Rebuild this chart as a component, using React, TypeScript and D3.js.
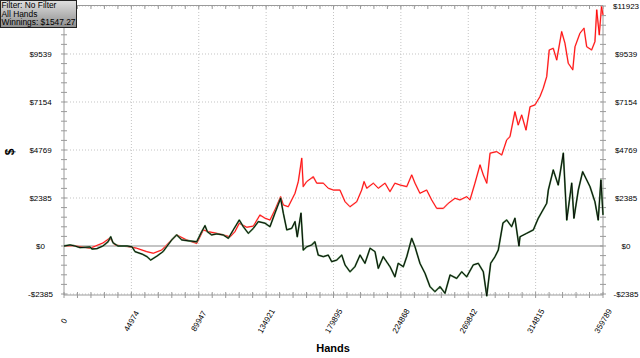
import React from "react";
import * as d3 from "d3";

const W = 640;
const H = 358;

const xTickValues = [0, 44974, 89947, 134921, 179895, 224868, 269842, 314815, 359789];
const yTickValues = [-2385, 0, 2385, 4769, 7154, 9539, 11923];
const filterLines = ["Filter: No Filter", "All Hands", "Winnings: $1547.27"];
const xTitle = "Hands";
const yTitle = "$";

// Winnings (black/green) series
const winHands = [
  0, 4000, 7300, 10700, 17400, 18700, 22000, 26000, 29400, 31200,
  32700, 36000, 42100, 45400, 47400, 52100, 55400, 57900, 62100, 66100,
  69400, 71900, 75200, 78600, 82800, 88600, 91900, 94100, 95700, 98600,
  101900, 106300, 109700, 113000, 117000, 119700, 123000, 126400, 129700, 134200,
  137500, 140800, 144600, 146400, 148700, 152000, 154200, 155700, 158200, 159700,
  162000, 165300, 167500, 169700, 173100, 176400, 178700, 182000, 185400, 187600,
  190900, 194200, 197600, 200900, 204300, 207600, 209800, 213100, 217600, 220900,
  223100, 226500, 228800, 232100, 234300, 237600, 241000, 244300, 247600, 251000,
  254300, 257700, 262100, 265500, 268800, 273200, 276500, 279900, 282200, 284800,
  287700, 289900, 293000, 295500, 298800, 301000, 303700, 304400, 308900, 313300,
  316600, 322200, 323300, 326600, 329900, 333300, 335600, 338900, 340400, 343300,
  346200, 351100, 354400, 356600, 358400, 359789,
];
const winValues = [
  0, 50, 0, -80, -50, -150, -130, 0, 210, 460,
  160, 0, 0, -40, -280, -400, -530, -700, -500, -280,
  50, 300, 550, 300, 260, 210, 710, 1010, 710, 550,
  600, 550, 380, 800, 1290, 960, 630, 880, 1210, 1130,
  960, 1630, 2370, 1630, 800, 880, 1210, 460, 1630, -200,
  -40, 50, 210, -450, -530, -450, -780, -700, -450, -940,
  -1280, -1030, -450, -860, -110, -280, -1110, -530, -1030, -1530,
  -860, -1030, -530, 380, -40, -860, -1360, -2020, -2270, -2020,
  -2350, -1440, -1610, -1280, -1530, -940, -860, -1280, -2480, -860,
  -530, -200, 1140, 1290, 960, 1380, 0, 460, 630, 800,
  1380, 2120, 2780, 3780, 3030, 4610, 1290, 3120, 1380, 2780,
  3690, 2950, 2200, 1290, 3280, 1547,
];

// All-in EV (red) series
const evHands = [
  0, 6000, 17400, 26000, 30700, 34000, 44100, 48500, 55200, 59600,
  65200, 69600, 75200, 81900, 88600, 93000, 96300, 101900, 108600, 110800,
  114100, 117000, 122000, 126400, 130800, 134200, 137500, 140800, 144600, 146400,
  149700, 154200, 156400, 158700, 159700, 162000, 166400, 168700, 173100, 176400,
  179800, 184200, 187600, 190900, 195400, 198700, 200300, 202100, 206500, 209800,
  214300, 217600, 220900, 224300, 228800, 232100, 234300, 237600, 242100, 245400,
  248800, 253200, 256500, 261000, 264300, 268800, 271000, 274300, 277700, 279900,
  282200, 284400, 288800, 292200, 295500, 297700, 301000, 303200, 305500, 308400,
  311100, 314400, 317700, 319900, 322200, 323900, 326600, 328900, 332200, 334400,
  336600, 339600, 341100, 344400, 347100, 348900, 352200, 354400, 355600, 357300,
  358800, 359789,
];
const evValues = [
  0, 20, -110, 150, 400, 50, -40, -110, -280, -360,
  -200, 130, 550, 300, 130, 800, 710, 630, 500, 450,
  710, 1130, 930, 990, 1540, 1380, 1290, 1790, 2450, 2040,
  1950, 2620, 3200, 4360, 2950, 3200, 3440, 3120, 3120, 2870,
  2780, 2780, 2200, 1950, 2200, 2780, 3200, 2870, 3120, 2870,
  3120, 2700, 3120, 3030, 2950, 3530, 3120, 2620, 2780, 2290,
  1870, 1870, 2120, 2370, 2290, 2450, 2290, 3120, 4030, 3530,
  3120, 4610, 4690, 4520, 5270, 5430, 6670, 6010, 6510, 5760,
  6920, 7010, 7420, 7840, 8410, 9740, 9820, 9240, 10650, 10070,
  9080, 8750, 9900, 10570, 10820, 9900, 9740, 10150, 11730, 10490,
  11890, 11480,
];

const FONT = "'Liberation Sans', Arial, sans-serif";

function minorTicks(major: number[]): number[] {
  const out: number[] = [];
  for (let i = 0; i < major.length - 1; i++) {
    const step = (major[i + 1] - major[i]) / 5;
    for (let j = 1; j < 5; j++) out.push(major[i] + j * step);
  }
  return out;
}

function fmt(v: number): string {
  return v < 0 ? `-$${Math.abs(v)}` : `$${v}`;
}

export default function App() {
  const left = 64, right = 603, top = 6, bottom = 294;
  const x = d3.scaleLinear().domain([0, 359789]).range([left, right]);
  const y = d3.scaleLinear().domain([-2385, 11923]).range([bottom, top]);

  const winData = winHands.map((h, i) => [h, winValues[i]] as [number, number]).filter((d) => d[1] !== undefined);
  const evData = evHands.map((h, i) => [h, evValues[i]] as [number, number]).filter((d) => d[1] !== undefined);

  const line = d3
    .line<[number, number]>()
    .x((d) => x(d[0]))
    .y((d) => y(d[1]));

  const xMinor = minorTicks(xTickValues);
  const yMinor = minorTicks(yTickValues);
  const axisColor = "#9a9a9a";
  const gridColor = "#c4c4c4";
  const maxY = yTickValues[yTickValues.length - 1];

  return (
    <svg
      width={W}
      height={H}
      style={{ position: "fixed", left: 0, top: 0, background: "#fff" }}
      fontFamily={FONT}
    >
      <defs>
        <linearGradient id="boxGrad" x1="0" y1="0" x2="0" y2="1">
          <stop offset="0%" stopColor="#e0e0e0" />
          <stop offset="100%" stopColor="#8c8c8c" />
        </linearGradient>
      </defs>
      <rect x={0} y={0} width={W} height={H} fill="#fff" />

      {/* grid */}
      {xTickValues.slice(1, -1).map((v) => (
        <line key={"gx" + v} x1={x(v)} x2={x(v)} y1={top} y2={bottom} stroke={gridColor} strokeDasharray="1,2" />
      ))}
      {yTickValues.filter((v) => v !== 0).map((v) => (
        <line key={"gy" + v} x1={left} x2={right} y1={y(v)} y2={y(v)} stroke={gridColor} strokeDasharray="1,2" />
      ))}
      {/* zero line */}
      <line x1={left} x2={right} y1={y(0)} y2={y(0)} stroke="#b0b0b0" strokeWidth={1.6} />

      {/* frame axes */}
      <line x1={left} x2={left} y1={top} y2={bottom + 1} stroke={axisColor} />
      <line x1={right} x2={right} y1={top} y2={bottom + 1} stroke={axisColor} />
      <line x1={left} x2={right} y1={top - 0.5} y2={top - 0.5} stroke={axisColor} />
      <line x1={left} x2={right} y1={bottom + 1} y2={bottom + 1} stroke={axisColor} />

      {/* x ticks bottom & top */}
      {[...xTickValues, ...xMinor].map((v, i) => (
        <g key={"xt" + i}>
          <line x1={x(v)} x2={x(v)} y1={bottom - 2} y2={bottom + 4} stroke={axisColor} />
          <line x1={x(v)} x2={x(v)} y1={top - 0.5} y2={top + 3} stroke={axisColor} />
        </g>
      ))}
      {/* y ticks left & right */}
      {[...yTickValues, ...yMinor].map((v, i) => (
        <g key={"yt" + i}>
          <line x1={left - 3} x2={left + 3} y1={y(v)} y2={y(v)} stroke={axisColor} />
          <line x1={right - 3} x2={right + 3} y1={y(v)} y2={y(v)} stroke={axisColor} />
        </g>
      ))}

      {/* series */}
      <path d={line(evData) || ""} fill="none" stroke="#ffa0a0" strokeWidth={1.7} strokeLinejoin="round" />
      <path d={line(evData) || ""} fill="none" stroke="#ff0000" strokeWidth={0.9} strokeLinejoin="round" />
      <path d={line(winData) || ""} fill="none" stroke="#5a915a" strokeWidth={1.8} strokeLinejoin="round" />
      <path d={line(winData) || ""} fill="none" stroke="#000" strokeWidth={0.9} strokeLinejoin="round" />

      {/* y labels (left top label is hidden under the filter box in the original) */}
      {yTickValues.map((v) => (
        <g key={"yl" + v} fontSize={8} fill="#000">
          {v !== maxY && (
            <text x={40.5} y={y(v)} dy="0.35em" textAnchor="middle">{fmt(v)}</text>
          )}
          <text x={626} y={y(v)} dy="0.35em" textAnchor="middle">{fmt(v)}</text>
        </g>
      ))}
      {/* x labels */}
      {xTickValues.map((v) => (
        <text
          key={"xl" + v}
          transform={`translate(${x(v)},321) rotate(-60)`}
          textAnchor="middle"
          dy="0.35em"
          fontSize={8}
          fill="#000"
        >
          {v}
        </text>
      ))}

      {/* titles */}
      <text x={333} y={352} textAnchor="middle" fontWeight="bold" fontSize={11} fill="#000">{xTitle}</text>
      <text transform="translate(10,152) rotate(-90)" textAnchor="middle" dy="0.35em" fontWeight="bold" fontSize={12} fill="#000">{yTitle}</text>

      {/* filter box */}
      <rect x={0.5} y={0.5} width={76} height={27} fill="url(#boxGrad)" stroke="#222" />
      {filterLines.map((t, i) => (
        <text key={t} x={1.5} y={8 + i * 8.7} fontSize={8.4} fill="#000">{t}</text>
      ))}
    </svg>
  );
}
